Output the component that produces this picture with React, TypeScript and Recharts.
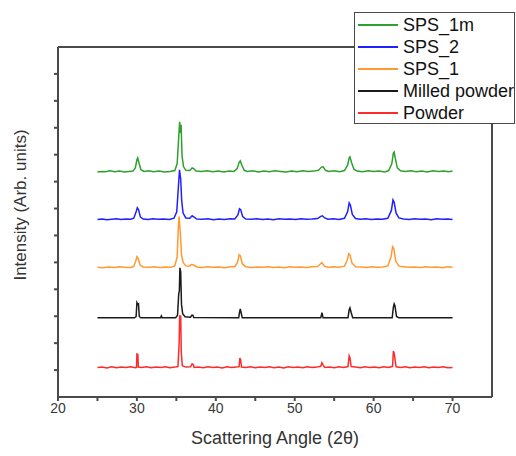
import { LineChart, Line, XAxis, YAxis, Label, ReferenceLine } from "recharts";

type Pt = [number, number];

// 2θ / relative intensity (each trace above its own baseline)
const sps1m: Pt[] = [
  [25, 0], [25.5, 0.02], [26, 0.01], [26.6, 0.04], [27.2, 0.01], [27.8, 0.03], [28.4, 0], [29, 0.02],
  [29.5, 0.03], [29.8, 0.15], [30.0, 0.45], [30.1, 0.52], [30.25, 0.35], [30.5, 0.08], [30.9, 0.02],
  [31.5, 0.04], [32.1, 0.01], [32.8, 0.03], [33.5, 0], [34.2, 0.02], [34.8, 0.05], [35.1, 0.3],
  [35.3, 1.3], [35.42, 1.86], [35.52, 1.45], [35.6, 1.75], [35.72, 0.6], [35.9, 0.2], [36.2, 0.06],
  [36.7, 0.05], [37.0, 0.15], [37.2, 0.12], [37.5, 0.03], [38.2, 0.02], [38.9, 0.04], [39.6, 0.01],
  [40.3, 0.03], [41, 0], [41.7, 0.03], [42.3, 0.02], [42.7, 0.12], [42.95, 0.35], [43.1, 0.41],
  [43.3, 0.25], [43.6, 0.06], [44, 0.02], [44.7, 0.04], [45.4, 0], [46.1, 0.03], [46.8, 0.01],
  [47.5, 0.04], [48.2, 0.02], [48.9, 0], [49.6, 0.03], [50.3, 0.01], [51, 0.04], [51.7, 0.02],
  [52.4, 0.03], [53, 0.06], [53.4, 0.18], [53.6, 0.19], [53.9, 0.06], [54.3, 0.02], [55, 0.04],
  [55.7, 0.01], [56.3, 0.05], [56.7, 0.25], [56.9, 0.52], [57.0, 0.56], [57.2, 0.35], [57.5, 0.1],
  [57.9, 0.03], [58.6, 0.01], [59.3, 0.04], [60, 0.02], [60.7, 0.03], [61.4, 0], [61.9, 0.05],
  [62.3, 0.3], [62.5, 0.7], [62.6, 0.74], [62.75, 0.5], [63, 0.15], [63.4, 0.04], [64, 0.02],
  [64.7, 0.04], [65.4, 0.01], [66.1, 0.03], [66.8, 0], [67.5, 0.04], [68.2, 0.02], [68.9, 0.03],
  [69.5, 0.01], [70, 0.03],
];

const sps2: Pt[] = [
  [25, 0.01], [25.6, 0.03], [26.2, 0], [26.8, 0.02], [27.4, 0.04], [28, 0.01], [28.6, 0.03], [29.2, 0.02],
  [29.6, 0.06], [29.9, 0.3], [30.05, 0.45], [30.2, 0.38], [30.45, 0.1], [30.8, 0.03], [31.4, 0.01],
  [32, 0.04], [32.7, 0.02], [33.4, 0.03], [34.1, 0.01], [34.7, 0.06], [35.05, 0.3], [35.25, 1.2],
  [35.4, 1.86], [35.55, 1.5], [35.68, 0.7], [35.85, 0.25], [36.2, 0.07], [36.7, 0.06], [37.0, 0.15],
  [37.25, 0.1], [37.6, 0.03], [38.3, 0.02], [39, 0.04], [39.7, 0], [40.4, 0.03], [41.1, 0.01],
  [41.8, 0.04], [42.4, 0.03], [42.8, 0.18], [43.0, 0.41], [43.15, 0.38], [43.4, 0.12], [43.8, 0.03],
  [44.5, 0.02], [45.2, 0.04], [45.9, 0.01], [46.6, 0.03], [47.3, 0], [48, 0.04], [48.7, 0.02],
  [49.4, 0.03], [50.1, 0.01], [50.8, 0.04], [51.5, 0.02], [52.2, 0.03], [52.9, 0.05], [53.3, 0.13],
  [53.5, 0.15], [53.8, 0.07], [54.2, 0.02], [54.9, 0.04], [55.6, 0.01], [56.3, 0.06], [56.7, 0.3],
  [56.9, 0.63], [57.05, 0.55], [57.3, 0.2], [57.7, 0.05], [58.3, 0.02], [59, 0.04], [59.7, 0.01],
  [60.4, 0.03], [61.1, 0.02], [61.8, 0.06], [62.25, 0.35], [62.45, 0.74], [62.6, 0.65], [62.85, 0.25],
  [63.2, 0.07], [63.8, 0.03], [64.5, 0.01], [65.2, 0.04], [65.9, 0.02], [66.6, 0.03], [67.3, 0],
  [68, 0.04], [68.7, 0.02], [69.4, 0.03], [70, 0.01],
];

const sps1: Pt[] = [
  [25, 0.02], [25.7, 0], [26.4, 0.03], [27.1, 0.01], [27.8, 0.04], [28.5, 0.02], [29.2, 0.01],
  [29.6, 0.05], [29.85, 0.25], [30.0, 0.41], [30.15, 0.35], [30.4, 0.1], [30.8, 0.03], [31.5, 0.02],
  [32.2, 0.04], [32.9, 0.01], [33.6, 0.03], [34.3, 0.02], [34.8, 0.07], [35.1, 0.4], [35.25, 1.5],
  [35.35, 1.9], [35.5, 1.3], [35.65, 0.5], [35.85, 0.2], [36.2, 0.07], [36.6, 0.06], [36.9, 0.12],
  [37.2, 0.1], [37.6, 0.03], [38.3, 0.01], [39, 0.04], [39.7, 0.02], [40.4, 0.03], [41.1, 0],
  [41.8, 0.04], [42.4, 0.04], [42.75, 0.2], [42.95, 0.48], [43.1, 0.45], [43.35, 0.15], [43.8, 0.04],
  [44.5, 0.01], [45.2, 0.03], [45.9, 0.02], [46.6, 0.04], [47.3, 0.01], [48, 0.03], [48.7, 0],
  [49.4, 0.04], [50.1, 0.02], [50.8, 0.03], [51.5, 0.01], [52.2, 0.04], [52.9, 0.05], [53.3, 0.16],
  [53.45, 0.19], [53.75, 0.06], [54.2, 0.02], [54.9, 0.04], [55.6, 0.02], [56.3, 0.06], [56.65, 0.28],
  [56.85, 0.52], [57.0, 0.48], [57.25, 0.18], [57.7, 0.04], [58.4, 0.03], [59.1, 0.01], [59.8, 0.04],
  [60.5, 0.02], [61.2, 0.03], [61.8, 0.07], [62.2, 0.4], [62.4, 0.78], [62.55, 0.72], [62.8, 0.25],
  [63.2, 0.06], [63.8, 0.04], [64.5, 0.02], [65.2, 0.03], [65.9, 0.01], [66.6, 0.04], [67.3, 0.02],
  [68, 0.03], [68.7, 0], [69.4, 0.04], [70, 0.02],
];

const milled: Pt[] = [
  [25, 0], [29.7, 0], [29.9, 0.05], [30.0, 0.56], [30.1, 0.5], [30.2, 0.52], [30.3, 0.05], [30.5, 0],
  [33.0, 0], [33.1, 0.07], [33.2, 0], [34.9, 0], [35.15, 0.1], [35.3, 0.9], [35.38, 1.0], [35.45, 1.86],
  [35.55, 1.7], [35.65, 0.5], [35.8, 0.15], [36.1, 0.04], [36.8, 0.02], [36.95, 0.1], [37.1, 0.1],
  [37.2, 0.01], [42.9, 0], [43.0, 0.2], [43.1, 0.33], [43.2, 0.2], [43.35, 0], [53.3, 0], [53.45, 0.19],
  [53.6, 0], [56.75, 0], [56.9, 0.3], [57.0, 0.37], [57.15, 0.2], [57.35, 0], [62.35, 0], [62.5, 0.4],
  [62.6, 0.52], [62.7, 0.45], [62.9, 0.05], [63.2, 0], [70, 0],
];

const powder: Pt[] = [
  [25, 0.02], [25.6, 0.03], [26.2, 0], [26.8, 0.04], [27.4, 0.01], [28, 0.03], [28.6, 0.02], [29.2, 0.04],
  [29.8, 0.01], [29.95, 0.02], [30.0, 0.52], [30.12, 0.5], [30.18, 0.03], [30.6, 0.02], [31.2, 0.04],
  [31.8, 0.01], [32.4, 0.03], [33, 0.02], [33.6, 0.04], [34.2, 0.01], [34.8, 0.03], [35.2, 0.05],
  [35.35, 0.9], [35.42, 1.93], [35.55, 1.93], [35.62, 0.6], [35.75, 0.08], [36.2, 0.03], [36.8, 0.04],
  [37.0, 0.15], [37.15, 0.12], [37.25, 0.02], [37.8, 0.03], [38.4, 0.01], [39, 0.04], [39.6, 0.02],
  [40.2, 0.03], [40.8, 0], [41.4, 0.04], [42, 0.02], [42.6, 0.03], [42.95, 0.05], [43.05, 0.37],
  [43.15, 0.3], [43.25, 0.03], [43.8, 0.02], [44.4, 0.04], [45, 0.01], [45.6, 0.03], [46.2, 0.02],
  [46.8, 0.04], [47.4, 0.01], [48, 0.03], [48.6, 0], [49.2, 0.04], [49.8, 0.02], [50.4, 0.03], [51, 0.01],
  [51.6, 0.04], [52.2, 0.02], [52.8, 0.03], [53.3, 0.06], [53.45, 0.19], [53.6, 0.1], [53.8, 0.02],
  [54.4, 0.03], [55, 0.01], [55.6, 0.04], [56.2, 0.02], [56.75, 0.05], [56.9, 0.45], [57.0, 0.38],
  [57.15, 0.05], [57.7, 0.03], [58.3, 0.01], [58.9, 0.04], [59.5, 0.02], [60.1, 0.03], [60.7, 0.01],
  [61.3, 0.04], [61.9, 0.02], [62.4, 0.06], [62.5, 0.63], [62.6, 0.55], [62.72, 0.3], [62.85, 0.04],
  [63.4, 0.02], [64, 0.04], [64.6, 0.01], [65.2, 0.03], [65.8, 0.02], [66.4, 0.04], [67, 0.01],
  [67.6, 0.03], [68.2, 0.02], [68.8, 0.04], [69.4, 0.01], [70, 0.02],
];

// legend order (top to bottom)
const names = ["SPS_1m", "SPS_2", "SPS_1", "Milled powder", "Powder"];
const colors = ["#2ea02e", "#2020ff", "#ff9933", "#1a1a1a", "#ff2a2a"];
const traces = [sps1m, sps2, sps1, milled, powder];
const offsets = [8.36, 6.58, 4.8, 2.94, 1.08];

const xDomain = [20, 75];
const yDomain = [0, 13];
const xTicks = [20, 25, 30, 35, 40, 45, 50, 55, 60, 65, 70];
const yTicks = [1, 2, 3, 4, 5, 6, 7, 8, 9, 10, 11, 12];

const FONT = "'Liberation Sans', Arial, sans-serif";
const AXIS = "#4a4a4a";

const series = traces.map((t, i) => ({
  name: names[i],
  color: colors[i],
  data: t.map(([x, y]) => ({ x, y: y + offsets[i] })),
}));

export default function App() {
  return (
    <div style={{ position: "absolute", left: 0, top: 0, width: 516, height: 456, fontFamily: FONT }}>
      <LineChart width={516} height={456} margin={{ top: 47, right: 24, left: 0, bottom: 0 }}>
        <XAxis
          dataKey="x"
          type="number"
          domain={xDomain}
          ticks={xTicks}
          interval={0}
          tickFormatter={(v: number) => (v % 10 === 0 ? String(v) : "")}
          height={59}
          tickSize={4}
          stroke={AXIS}
          strokeWidth={2}
          tick={{ fill: "#3a3a3a", fontSize: 14, fontFamily: FONT }}
          allowDataOverflow
        >
          <Label
            value="Scattering Angle (2θ)"
            position="insideBottom"
            offset={12}
            style={{ fill: "#333", fontSize: 18, fontFamily: FONT }}
          />
        </XAxis>
        <YAxis
          type="number"
          domain={yDomain}
          ticks={yTicks}
          interval={0}
          tickFormatter={() => ""}
          tickSize={4}
          width={58}
          stroke={AXIS}
          strokeWidth={2}
          allowDataOverflow
          label={{
            content: () => (
              <text
                x={20}
                y={205}
                transform="rotate(-90 20 205)"
                textAnchor="middle"
                dominantBaseline="central"
                fontSize={17}
                fontFamily={FONT}
                fill="#333"
              >
                Intensity (Arb. units)
              </text>
            ),
          }}
        />
        {/* top and right edges of the frame */}
        <ReferenceLine y={yDomain[1]} stroke={AXIS} strokeWidth={2} />
        <ReferenceLine x={xDomain[1]} stroke={AXIS} strokeWidth={2} />
        {series
          .slice()
          .reverse()
          .map((s) => (
            <Line
              key={s.name}
              data={s.data}
              dataKey="y"
              name={s.name}
              type="linear"
              stroke={s.color}
              strokeWidth={1.5}
              dot={false}
              isAnimationActive={false}
            />
          ))}
      </LineChart>
      <div
        style={{
          position: "absolute",
          left: 354,
          top: 12,
          width: 159,
          height: 109,
          background: "#fff",
          border: `1.5px solid ${AXIS}`,
          paddingTop: 1,
        }}
      >
        {series.map((s) => (
          <div key={s.name} style={{ display: "flex", alignItems: "center", height: 22 }}>
            <div style={{ width: 40, height: 2, background: s.color, marginLeft: 3, marginRight: 5 }} />
            <span style={{ fontSize: 18, color: "#111", whiteSpace: "nowrap", lineHeight: "22px" }}>{s.name}</span>
          </div>
        ))}
      </div>
    </div>
  );
}
